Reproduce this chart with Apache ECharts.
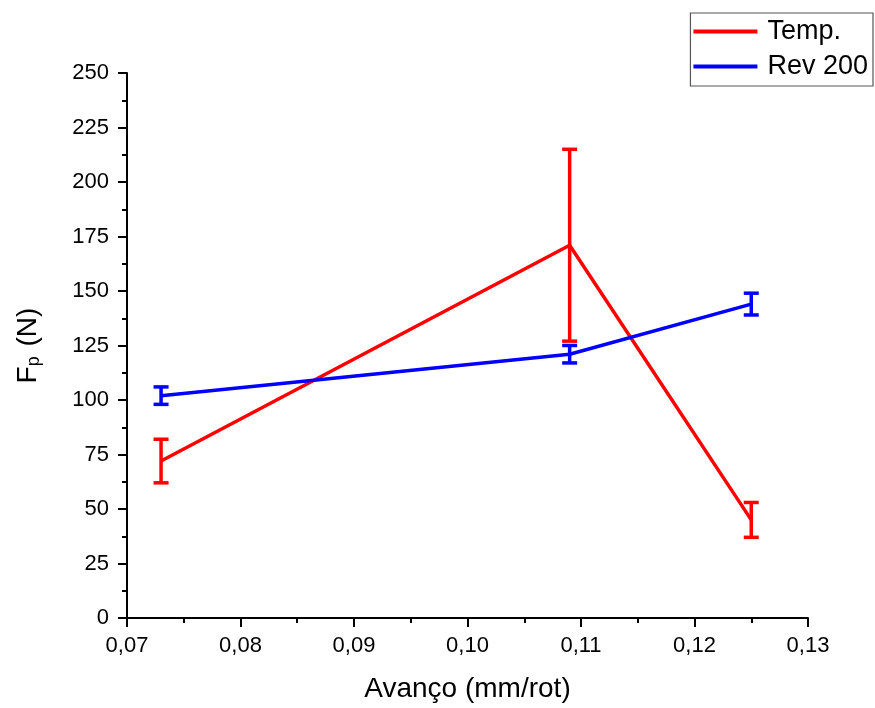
<!DOCTYPE html>
<html>
<head>
<meta charset="utf-8">
<script src="https://cdn.jsdelivr.net/npm/echarts@6/dist/echarts.min.js"></script>
<style>html,body{margin:0;padding:0;background:#fff;}#c{width:875px;height:708px;}</style>
</head>
<body>
<div id="c"></div>
<script>
var xValues = [0.073, 0.109, 0.125];
var tempMean = [72, 171, 45];
var tempErr = [10, 44, 8];
var revMean = [102, 121, 144];
var revErr = [4, 4, 5];
var seriesNames = ['Temp.', 'Rev 200'];
var FONT = '"Liberation Sans", Arial, sans-serif';

function pairs(xs, ys) { return xs.map(function (x, i) { return [x, ys[i]]; }); }
function errData(xs, ys, es) { return xs.map(function (x, i) { return [x, ys[i] - es[i], ys[i] + es[i]]; }); }
function errRender(color) {
  return function (params, api) {
    var x = api.value(0);
    var lo = api.coord([x, api.value(1)]);
    var hi = api.coord([x, api.value(2)]);
    var hw = 7.5;
    var st = { stroke: color, lineWidth: 3.5, fill: null };
    return {
      type: 'group',
      children: [
        { type: 'line', shape: { x1: lo[0], y1: lo[1], x2: hi[0], y2: hi[1] }, style: st },
        { type: 'line', shape: { x1: lo[0] - hw, y1: lo[1], x2: lo[0] + hw, y2: lo[1] }, style: st },
        { type: 'line', shape: { x1: hi[0] - hw, y1: hi[1], x2: hi[0] + hw, y2: hi[1] }, style: st }
      ]
    };
  };
}

var chart = echarts.init(document.getElementById('c'));
chart.setOption({
  backgroundColor: '#fff',
  animation: false,
  textStyle: { fontFamily: FONT },
  legend: {
    orient: 'vertical',
    right: 2,
    top: 13,
    borderColor: '#555',
    borderWidth: 1.2,
    padding: [5, 5, 6, 3],
    itemWidth: 64,
    itemHeight: 4,
    itemGap: 8,
    textStyle: { fontSize: 27, color: '#000', fontFamily: FONT, padding: [0, 0, 0, 5] },
    data: [
      { name: seriesNames[0], icon: 'rect' },
      { name: seriesNames[1], icon: 'rect' }
    ]
  },
  grid: { left: 127, right: 67, top: 73, bottom: 86 },
  xAxis: {
    type: 'value',
    min: 0.07,
    max: 0.13,
    interval: 0.01,
    name: 'Avanço (mm/rot)',
    nameLocation: 'middle',
    nameGap: 57,
    nameTextStyle: { fontSize: 28, color: '#000', fontFamily: FONT },
    axisLine: { lineStyle: { color: '#000', width: 2 } },
    axisTick: { show: true, inside: false, length: 9, lineStyle: { color: '#000', width: 2 } },
    minorTick: { show: true, splitNumber: 2, length: 5, lineStyle: { color: '#000', width: 2 } },
    axisLabel: {
      fontSize: 22, color: '#000', margin: 17, fontFamily: FONT,
      formatter: function (v) { return v.toFixed(2).replace('.', ','); }
    },
    splitLine: { show: false }
  },
  yAxis: {
    type: 'value',
    min: 0,
    max: 250,
    interval: 25,
    name: '{a|F}{s|p}{a| (N)}',
    nameLocation: 'middle',
    nameGap: 84,
    nameRotate: 90,
    nameTextStyle: {
      color: '#000',
      rich: {
        a: { fontSize: 28, fontFamily: FONT, color: '#000' },
        s: { fontSize: 18, fontFamily: FONT, color: '#000', verticalAlign: 'bottom', padding: [12, 2, 0, 0] }
      }
    },
    axisLine: { show: true, lineStyle: { color: '#000', width: 2 } },
    axisTick: { show: true, inside: false, length: 9, lineStyle: { color: '#000', width: 2 } },
    minorTick: { show: true, splitNumber: 2, length: 5, lineStyle: { color: '#000', width: 2 } },
    axisLabel: { fontSize: 22, color: '#000', margin: 18, fontFamily: FONT },
    splitLine: { show: false }
  },
  series: [
    {
      name: seriesNames[0], type: 'line', data: pairs(xValues, tempMean),
      symbol: 'none', itemStyle: { color: '#ff0000' }, lineStyle: { color: '#ff0000', width: 3.5 }, z: 2
    },
    {
      name: seriesNames[0], type: 'custom', data: errData(xValues, tempMean, tempErr),
      renderItem: errRender('#ff0000'), itemStyle: { color: '#ff0000' }, z: 2
    },
    {
      name: seriesNames[1], type: 'line', data: pairs(xValues, revMean),
      symbol: 'none', itemStyle: { color: '#0000ff' }, lineStyle: { color: '#0000ff', width: 3.5 }, z: 3
    },
    {
      name: seriesNames[1], type: 'custom', data: errData(xValues, revMean, revErr),
      renderItem: errRender('#0000ff'), itemStyle: { color: '#0000ff' }, z: 3
    }
  ]
});
</script>
</body>
</html>
